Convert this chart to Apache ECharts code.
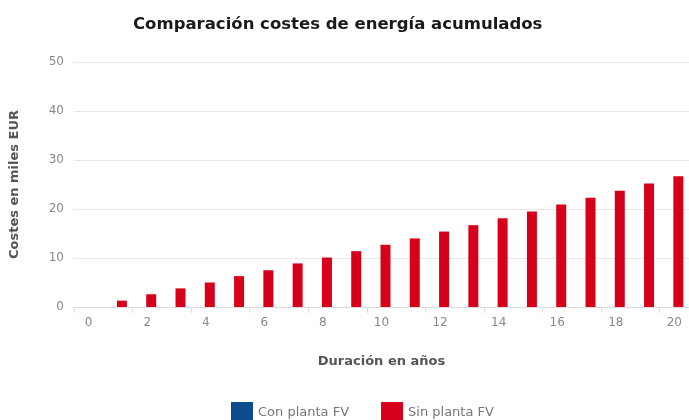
<!DOCTYPE html>
<html>
<head>
<meta charset="utf-8">
<script src="https://cdn.jsdelivr.net/npm/echarts@6/dist/echarts.min.js"></script>
<style>
  html, body { margin: 0; padding: 0; background: #fff; }
  #chart { width: 689px; height: 420px; }
</style>
</head>
<body>
<div id="chart"></div>
<script>
// Years of operation (x axis categories)
const years = ['0','1','2','3','4','5','6','7','8','9','10','11','12','13','14','15','16','17','18','19','20'];

// Accumulated energy cost, thousands of EUR
const conPlantaFV = [0,0,0,0,0,0,0,0,0,0,0,0,0,0,0,0,0,0,0,0,0];
const sinPlantaFV = [0,1.3,2.6,3.8,5.0,6.3,7.5,8.9,10.1,11.4,12.7,14.0,15.4,16.7,18.1,19.5,20.9,22.3,23.7,25.2,26.7];

// Y axis range
const yMin = 0, yMax = 50, yStep = 10;

const FONT = "'DejaVu Sans', Verdana, sans-serif";

const chart = echarts.init(document.getElementById('chart'), null, { renderer: 'canvas' });

chart.setOption({
  animation: false,
  textStyle: { fontFamily: FONT },
  title: {
    text: 'Comparación costes de energía acumulados',
    left: 128,
    top: 11,
    textStyle: { fontFamily: FONT, fontSize: 16.5, fontWeight: 'bold', color: '#1a1a1a' }
  },
  legend: {
    data: ['Con planta FV', 'Sin planta FV'],
    left: 226,
    top: 397,
    icon: 'rect',
    itemWidth: 22,
    itemHeight: 22,
    itemGap: 32,
    textStyle: { fontFamily: FONT, fontSize: 13, color: '#777' }
  },
  grid: { left: 74, right: -3, top: 62, bottom: 113, containLabel: false },
  xAxis: {
    type: 'category',
    data: years,
    name: 'Duración en años',
    nameLocation: 'middle',
    nameGap: 48,
    nameTextStyle: { fontFamily: FONT, fontSize: 13, fontWeight: 'bold', color: '#555' },
    axisLine: { lineStyle: { color: '#ddd' } },
    axisTick: { show: true, alignWithLabel: false, length: 6, lineStyle: { color: '#ddd' } },
    axisLabel: { interval: 1, margin: 10, fontSize: 12, color: '#888', fontFamily: FONT }
  },
  yAxis: {
    type: 'value',
    min: yMin,
    max: yMax,
    interval: yStep,
    name: 'Costes en miles EUR',
    nameLocation: 'middle',
    nameGap: 53,
    nameTextStyle: { fontFamily: FONT, fontSize: 13, fontWeight: 'bold', color: '#555' },
    axisLine: { show: false },
    axisTick: { show: false },
    axisLabel: { margin: 10, fontSize: 12, color: '#888', fontFamily: FONT },
    splitLine: { lineStyle: { color: '#e8e8e8' } }
  },
  series: [
    {
      name: 'Con planta FV',
      type: 'bar',
      data: conPlantaFV,
      barWidth: 10,
      barGap: '-20%',
      itemStyle: { color: '#0b4c8c' }
    },
    {
      name: 'Sin planta FV',
      type: 'bar',
      data: sinPlantaFV,
      barWidth: 10,
      itemStyle: { color: '#d7001b' }
    }
  ]
});
</script>
</body>
</html>
